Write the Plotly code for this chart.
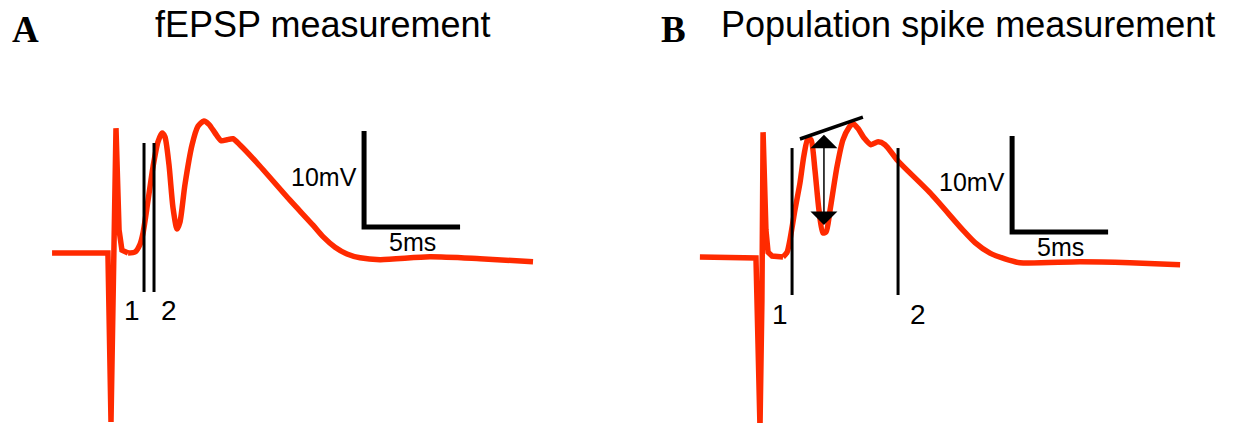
import plotly.graph_objects as go

# ---------------- data (time in ms from stimulus, voltage in mV from baseline) -------------
time_a = [-3.07, -0.16, 0.0, 0.10, 0.26, 0.42, 0.57, 0.89, 1.25, 1.51, 1.67, 1.93, 2.19, 2.45,
          2.66, 2.81, 3.02, 3.23, 3.44, 3.59, 3.85, 4.22, 4.53, 4.84, 5.10, 5.42, 5.73, 6.04,
          6.35, 6.72, 7.60, 9.32, 10.52, 11.04, 11.67, 12.29, 12.97, 14.01, 16.61, 19.22, 21.98]
volt_a = [0.0, 0.0, -17.6, -4.9, 13.0, 2.4, 0.3, 0.0, 0.1, 0.9, 2.1, 5.5, 9.0, 11.6,
          12.5, 12.1, 9.2, 4.7, 2.5, 3.2, 7.1, 11.25, 13.2, 13.75, 13.4, 12.5, 11.7, 11.8,
          11.9, 11.25, 9.4, 5.5, 2.9, 1.7, 0.6, -0.1, -0.5, -0.7, -0.4, -0.6, -0.9]

time_b = [-3.13, -0.21, 0.0, 0.10, 0.16, 0.31, 0.42, 0.63, 1.20, 1.41, 1.56, 1.82, 2.08, 2.29,
          2.50, 2.66, 2.86, 3.07, 3.28, 3.44, 3.65, 4.01, 4.32, 4.64, 4.84, 5.10, 5.42, 5.78,
          6.15, 6.51, 7.19, 8.85, 10.57, 11.20, 11.98, 12.76, 13.54, 16.67, 19.27, 21.88]
volt_b = [0.0, -0.1, -17.8, -4.5, 13.0, 2.8, 0.5, 0.1, 0.0, 0.5, 1.8, 4.9, 7.7, 10.6,
          12.4, 12.2, 9.1, 4.9, 2.5, 2.6, 4.9, 9.4, 12.2, 13.5, 13.9, 13.4, 12.4, 11.7,
          12.0, 11.7, 10.0, 6.7, 2.8, 1.5, 0.4, -0.2, -0.6, -0.5, -0.6, -0.8]

# index where the stimulus artifact has ended (artifact drawn straight, the rest smooth)
artifact_end_a = 7
artifact_end_b = 8

cursor_t_a = [1.72, 2.24]
cursor_t_b = [1.67, 7.19]
cursor_v_a = [-4.06, 11.46]
cursor_v_b = [-3.96, 11.35]
cursor_labels = ["1", "2"]

scalebar_ms = 5
scalebar_mv = 10
scalebar_origin_a = [13.18, 2.71]
scalebar_origin_b = [13.13, 2.60]

tangent_t_b = [2.08, 5.36]
tangent_v_b = [12.29, 14.58]
spike_arrow_t = 3.33
spike_arrow_v = [12.9, 3.33]

titles = ["fEPSP measurement", "Population spike measurement"]
panel_letters = ["A", "B"]

# ---------------- figure -------------
RED = "#ff2a00"
W, H = 1246, 423
PX_MS = 19.2
PX_MV = 9.6

fig = go.Figure()
for tt, vv, k, xr, yr in [(time_a, volt_a, artifact_end_a, "x", "y"),
                          (time_b, volt_b, artifact_end_b, "x2", "y2")]:
    fig.add_trace(go.Scatter(x=tt[:k + 1], y=vv[:k + 1], mode="lines",
                             line=dict(color=RED, width=5.5, shape="linear"),
                             xaxis=xr, yaxis=yr, hoverinfo="skip"))
    fig.add_trace(go.Scatter(x=tt[k:], y=vv[k:], mode="lines",
                             line=dict(color=RED, width=5.5, shape="spline", smoothing=0.7),
                             xaxis=xr, yaxis=yr, hoverinfo="skip"))

shapes = []
annotations = []
label_font = dict(family="Liberation Sans, Arial", size=28, color="black")
small_font = dict(family="Liberation Sans, Arial", size=25, color="black")

panels = [
    ("x", "y", cursor_t_a, cursor_v_a, scalebar_origin_a, [-12, 15]),
    ("x2", "y2", cursor_t_b, cursor_v_b, scalebar_origin_b, [-12, 20]),
]
for xr, yr, ct, cv, so, shifts in panels:
    for t, lab, sh in zip(ct, cursor_labels, shifts):
        shapes.append(dict(type="line", xref=xr, yref=yr, x0=t, x1=t, y0=cv[0], y1=cv[1],
                           line=dict(color="black", width=3)))
        annotations.append(dict(xref=xr, yref=yr, x=t, y=cv[0], text=lab, showarrow=False,
                                xanchor="center", yanchor="middle", xshift=sh, yshift=-19,
                                font=label_font))
    # scale bar
    fig.add_trace(go.Scatter(x=[so[0], so[0], so[0] + scalebar_ms],
                             y=[so[1] + scalebar_mv, so[1], so[1]],
                             mode="lines", line=dict(color="black", width=5),
                             xaxis=xr, yaxis=yr, hoverinfo="skip"))
    annotations.append(dict(xref=xr, yref=yr, x=so[0], y=so[1] + scalebar_mv / 2,
                            text="%dmV" % scalebar_mv, showarrow=False, xanchor="right",
                            yanchor="middle", xshift=-5, yshift=2, font=small_font))
    annotations.append(dict(xref=xr, yref=yr, x=so[0] + scalebar_ms / 2, y=so[1],
                            text="%dms" % scalebar_ms, showarrow=False, xanchor="center",
                            yanchor="middle", yshift=-15, font=small_font))

# tangent line and spike amplitude arrow (panel B)
fig.add_trace(go.Scatter(x=tangent_t_b, y=tangent_v_b, mode="lines",
                         line=dict(color="black", width=3.5), xaxis="x2", yaxis="y2",
                         hoverinfo="skip"))
annotations.append(dict(xref="x2", yref="y2", axref="x2", ayref="y2",
                        x=spike_arrow_t, y=spike_arrow_v[1],
                        ax=spike_arrow_t, ay=spike_arrow_v[0], text="", showarrow=True,
                        arrowside="end+start", arrowhead=1, startarrowhead=1,
                        arrowsize=3, startarrowsize=3, arrowwidth=1.5, arrowcolor="black",
                        standoff=0, startstandoff=0))

# titles and panel letters
title_x = [153, 719]
letter_x = [25, 673.5]
for tt, tx, lt, lx in zip(titles, title_x, panel_letters, letter_x):
    annotations.append(dict(xref="paper", yref="paper", x=tx / W, y=1 - 24.5 / H, text=tt,
                            showarrow=False, xanchor="left", yanchor="middle",
                            font=dict(family="Liberation Sans, Arial", size=36, color="black")))
    annotations.append(dict(xref="paper", yref="paper", x=lx / W, y=1 - 30 / H,
                            text="<b>%s</b>" % lt, showarrow=False, xanchor="center",
                            yanchor="middle",
                            font=dict(family="Liberation Serif, Times New Roman", size=37,
                                      color="black")))

x0a, x0b = 111, 760
base_a, base_b = 253, 257
fig.update_layout(
    width=W, height=H, margin=dict(l=0, r=0, t=0, b=0),
    paper_bgcolor="white", plot_bgcolor="rgba(0,0,0,0)", showlegend=False,
    xaxis=dict(domain=[0, 0.5], range=[-x0a / PX_MS, (W / 2 - x0a) / PX_MS], visible=False,
               anchor="y", fixedrange=True),
    yaxis=dict(domain=[0, 1], range=[(base_a - H) / PX_MV, base_a / PX_MV], visible=False,
               anchor="x", fixedrange=True),
    xaxis2=dict(domain=[0.5, 1], range=[(W / 2 - x0b) / PX_MS, (W - x0b) / PX_MS],
                visible=False, anchor="y2", fixedrange=True),
    yaxis2=dict(domain=[0, 1], range=[(base_b - H) / PX_MV, base_b / PX_MV], visible=False,
                anchor="x2", fixedrange=True),
    shapes=shapes, annotations=annotations,
)
fig.write_html("out.html", config={"displayModeBar": False},
               post_script="document.body.style.margin='0';")
